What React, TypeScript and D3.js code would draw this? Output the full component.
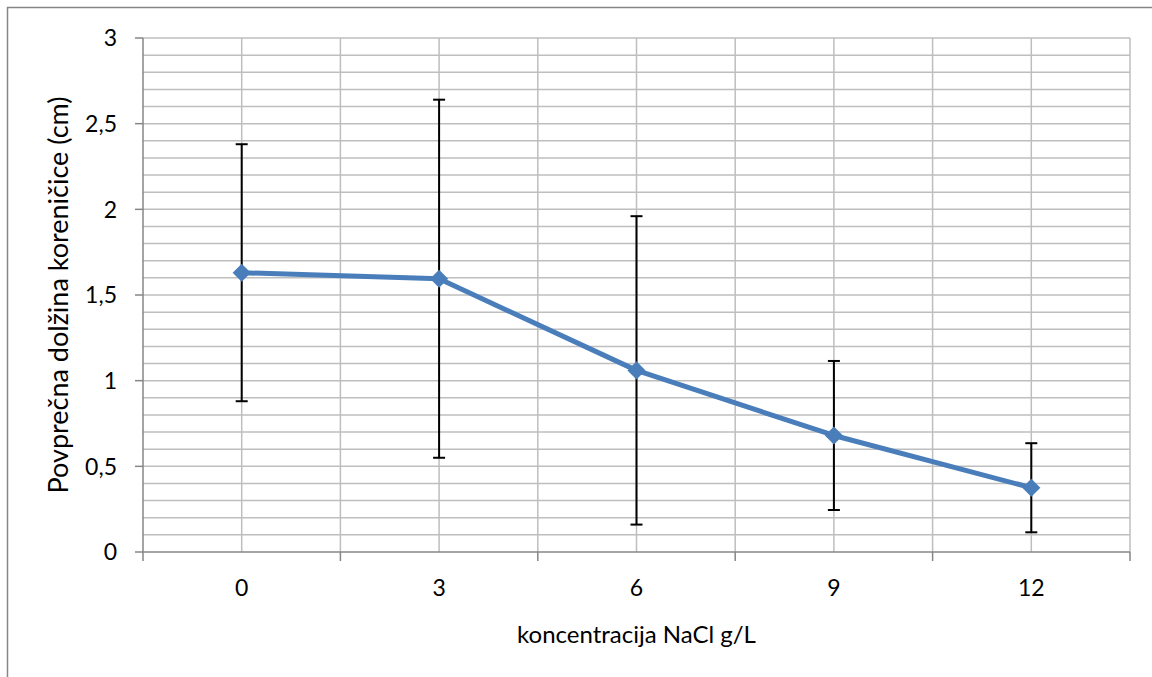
import React from "react";
import * as d3 from "d3";

const categories = ["0", "3", "6", "9", "12"];
const means = [1.63, 1.595, 1.06, 0.68, 0.375];
const errors = [0.75, 1.045, 0.9, 0.435, 0.26];
const yTicks = [0, 0.5, 1, 1.5, 2, 2.5, 3];
const yTickLabels = ["0", "0,5", "1", "1,5", "2", "2,5", "3"];
const xTitle = "koncentracija NaCl g/L";
const yTitle = "Povprečna dolžina koreničice (cm)";

const W = 1152;
const H = 677;
const left = 143;
const right = 1130;
const top = 38;
const bottom = 552;
const FONT = "Lato, 'Open Sans', sans-serif";

export default function App() {
  const x = d3.scaleBand<string>().domain(categories).range([left, right]).paddingInner(0).paddingOuter(0);
  const y = d3.scaleLinear().domain([0, 3]).range([bottom, top]);
  const cx = (c: string) => (x(c) as number) + x.bandwidth() / 2;
  const minorY = d3.range(1, 31).map((i) => i / 10);
  const boundaries = categories.map((c) => x(c) as number).concat([right]);
  const centers = categories.map(cx);
  const line = d3
    .line<number>()
    .x((_, i) => centers[i])
    .y((d) => y(d));
  const diamond = d3.symbol().type(d3.symbolDiamond2).size(210)();

  return (
    <svg width={W} height={H} style={{ position: "absolute", left: 0, top: 0 }} fontFamily={FONT}>
      <rect x={0} y={0} width={W} height={H} fill="#fff" />
      <rect x={7.5} y={7.5} width={1300} height={800} fill="none" stroke="#868686" strokeWidth={1.5} />
      {minorY.map((v) => (
        <line key={"h" + v} x1={left} x2={right} y1={y(v)} y2={y(v)} stroke="#BEBEBE" strokeWidth={1.5} />
      ))}
      {centers.concat(boundaries.slice(1)).map((xx, i) => (
        <line key={"v" + i} x1={xx} x2={xx} y1={top} y2={bottom} stroke="#BEBEBE" strokeWidth={1.5} />
      ))}
      <line x1={left} x2={left} y1={top} y2={bottom} stroke="#868686" strokeWidth={1.5} />
      <line x1={left} x2={right} y1={bottom} y2={bottom} stroke="#868686" strokeWidth={1.5} />
      {yTicks.map((v, i) => (
        <g key={"yt" + v}>
          <line x1={left - 8} x2={left} y1={y(v)} y2={y(v)} stroke="#868686" strokeWidth={1.5} />
          <text x={117} y={y(v)} dy="0.36em" textAnchor="end" fontSize={23} fill="#000">
            {yTickLabels[i]}
          </text>
        </g>
      ))}
      {boundaries.map((xx, i) => (
        <line key={"xt" + i} x1={xx} x2={xx} y1={bottom} y2={bottom + 9} stroke="#868686" strokeWidth={1.5} />
      ))}
      {categories.map((c) => (
        <text key={"xl" + c} x={cx(c)} y={596} textAnchor="middle" fontSize={23} fill="#000">
          {c}
        </text>
      ))}
      {means.map((m, i) => {
        const xx = centers[i];
        const y1 = y(m + errors[i]);
        const y2 = y(m - errors[i]);
        return (
          <g key={"e" + i} stroke="#000" strokeWidth={2}>
            <line x1={xx} x2={xx} y1={y1} y2={y2} />
            <line x1={xx - 6} x2={xx + 6} y1={y1} y2={y1} />
            <line x1={xx - 6} x2={xx + 6} y1={y2} y2={y2} />
          </g>
        );
      })}
      <path d={line(means) || ""} fill="none" stroke="#4A7EBB" strokeWidth={5} strokeLinejoin="round" />
      {means.map((m, i) => (
        <path key={"m" + i} d={diamond || ""} transform={`translate(${centers[i]},${y(m)})`} fill="#4A7EBB" />
      ))}
      <text x={(left + right) / 2} y={643} textAnchor="middle" fontSize={24} fill="#000">
        {xTitle}
      </text>
      <text
        transform={`translate(68,${(top + bottom) / 2}) rotate(-90)`}
        textAnchor="middle"
        fontSize={27}
        fill="#000"
      >
        {yTitle}
      </text>
    </svg>
  );
}
